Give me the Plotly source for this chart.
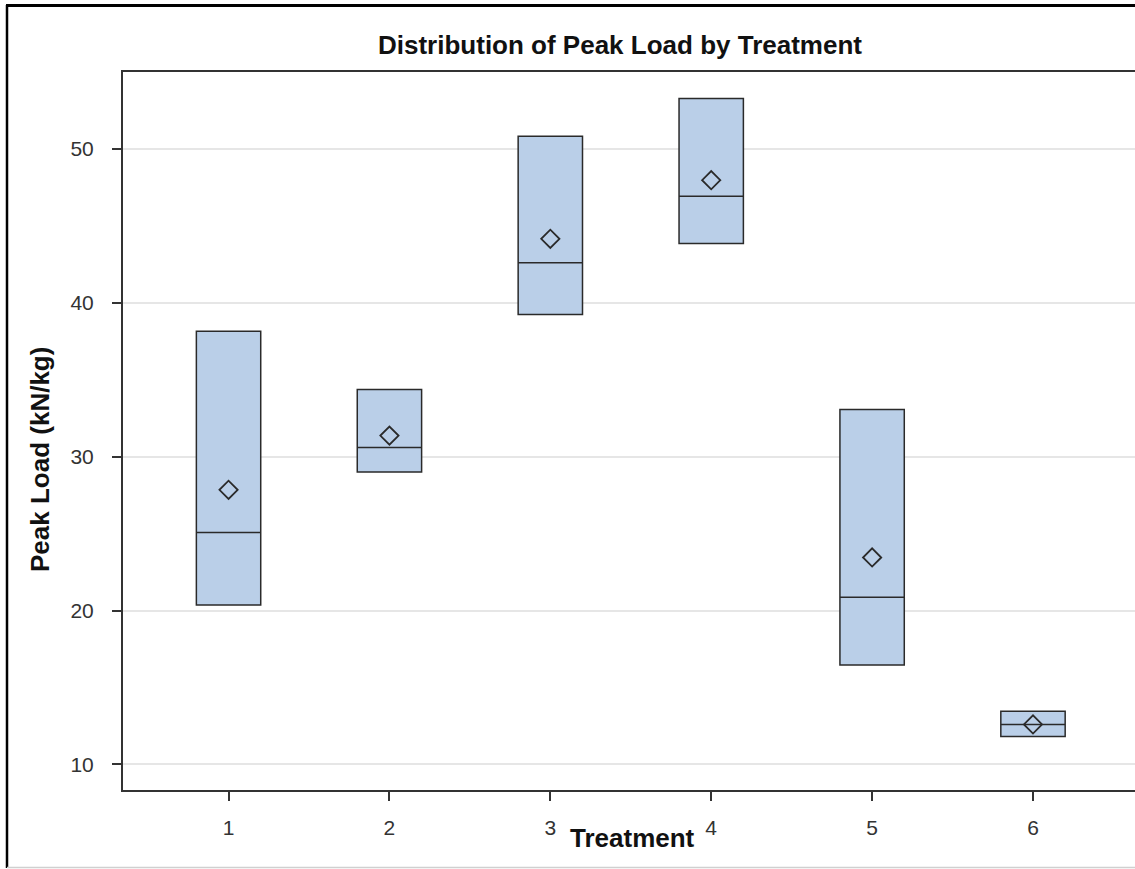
import plotly.graph_objects as go

treatments = [1, 2, 3, 4, 5, 6]
q1_vals = [20.37, 29.0, 39.24, 43.85, 16.47, 11.82]
median_vals = [25.08, 30.6, 42.6, 46.93, 20.87, 12.6]
q3_vals = [38.15, 34.36, 50.83, 53.28, 33.06, 13.45]
mean_vals = [27.85, 31.37, 44.16, 47.97, 23.45, 12.6]
y_ticks = [10, 20, 30, 40, 50]

W, H = 1135, 869
L, T, B = 123, 72, 79
pw, ph = W - L, H - T - B

def px_x(x):
    return (x - L) / pw

def px_y(y):
    return 1 - (y - T) / ph

fig = go.Figure()
fig.add_trace(go.Box(
    x=treatments, q1=q1_vals, median=median_vals, q3=q3_vals,
    lowerfence=q1_vals, upperfence=q3_vals,
    width=0.4, whiskerwidth=0,
    fillcolor="rgb(186,207,232)",
    line=dict(color="#2a2a2a", width=1.5),
    boxpoints=False, showlegend=False, hoverinfo="skip",
))
fig.add_trace(go.Scatter(
    x=treatments, y=mean_vals, mode="markers",
    marker=dict(symbol="diamond-open", size=14, color="#2a2a2a",
                line=dict(color="#2a2a2a", width=1.8)),
    showlegend=False, hoverinfo="skip",
))

font_family = "Liberation Sans, Arial, sans-serif"

fig.update_layout(
    width=W, height=H,
    margin=dict(l=L, r=0, t=T, b=B, pad=0),
    paper_bgcolor="white", plot_bgcolor="white",
    font=dict(family=font_family, color="#333333"),
    xaxis=dict(
        range=[0.344, 6.634], tickmode="array", tickvals=treatments,
        ticktext=[str(t) for t in treatments],
        showgrid=False, zeroline=False,
        showline=True, linecolor="#333333", linewidth=2, mirror=True,
        ticks="outside", ticklen=9, tickwidth=2, tickcolor="#333333",
        tickfont=dict(size=21, color="#333333"), ticklabelstandoff=9,
    ),
    yaxis=dict(
        range=[8.34, 55.0], tickmode="array", tickvals=y_ticks,
        showgrid=True, gridcolor="#e6e6e6", gridwidth=1.5, zeroline=False,
        showline=True, linecolor="#333333", linewidth=2, mirror=False,
        ticks="outside", ticklen=9, tickwidth=2, tickcolor="#333333",
        tickfont=dict(size=21, color="#333333"), ticklabelstandoff=14,
    ),
    shapes=[
        dict(type="line", xref="paper", yref="paper",
             x0=px_x(7), x1=px_x(7), y0=px_y(5), y1=px_y(868),
             line=dict(color="black", width=2.5)),
        dict(type="line", xref="paper", yref="paper",
             x0=px_x(6), x1=px_x(1140), y0=px_y(5.5), y1=px_y(5.5),
             line=dict(color="black", width=3)),
        dict(type="line", xref="paper", yref="paper",
             x0=px_x(7), x1=px_x(1140), y0=px_y(867.5), y1=px_y(867.5),
             line=dict(color="#d0d0d0", width=1.5)),
    ],
    annotations=[
        dict(text="<b>Distribution of Peak Load by Treatment</b>",
             xref="paper", yref="paper", x=px_x(620), y=px_y(45),
             xanchor="center", yanchor="middle", showarrow=False,
             font=dict(size=26, color="#111111", family=font_family)),
        dict(text="<b>Treatment</b>",
             xref="paper", yref="paper", x=px_x(632), y=px_y(838),
             xanchor="center", yanchor="middle", showarrow=False,
             font=dict(size=26, color="#111111", family=font_family)),
        dict(text="<b>Peak Load (kN/kg)</b>",
             xref="paper", yref="paper", x=px_x(40), y=px_y(460),
             xanchor="center", yanchor="middle", showarrow=False, textangle=-90,
             font=dict(size=26, color="#111111", family=font_family)),
    ],
)

fig.write_html("out.html")
